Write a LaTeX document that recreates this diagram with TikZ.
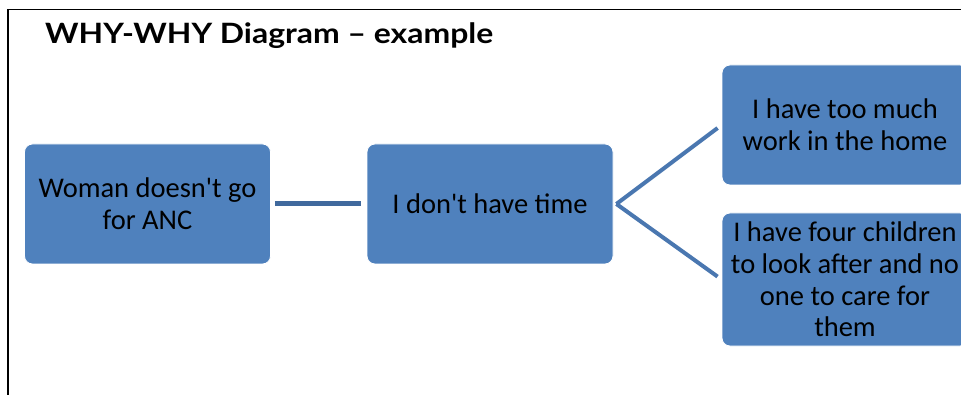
\documentclass[tikz,border=0pt]{standalone}
\usepackage{fontspec}
\usepackage{graphicx}
\newfontfamily\boxfont{Carlito}
\newfontfamily\titlefont{Lato}
\usetikzlibrary{calc}
\definecolor{boxblue}{HTML}{4F81BD}
\definecolor{linkblue}{HTML}{4A77B0}
\definecolor{darklink}{HTML}{40699D}
\tikzset{
  whybox/.style={rectangle, rounded corners=8pt, fill=boxblue, draw=white, line width=0.8pt,
    minimum width=246pt, align=center, text=black, inner sep=2pt,
    font=\boxfont\fontsize{28.5}{31.7}\selectfont},
  link/.style={line width=4pt, draw=linkblue},
}
\begin{document}
\begin{tikzpicture}[x=1pt,y=-1pt]
\useasboundingbox (0,0) rectangle (961,395);
\clip (0,0) rectangle (961,395);
\draw[line width=1.5pt] (8,395) -- (8,9.5) -- (961,9.5);
\node[anchor=base west, font=\titlefont\bfseries\fontsize{28}{32}\selectfont, inner sep=0pt] (title) at (45,44) {\scalebox{1.14}[1]{WHY-WHY Diagram – example}};
\node[whybox, minimum height=120pt] (b1) at (147.5,204) {Woman doesn't go\\for ANC};
\node[whybox, minimum height=120pt] (b2) at (490,204) {I don't have time};
\node[whybox, minimum height=120pt] (b3) at (845,125) {I have too much\\work in the home};
\node[whybox, minimum height=133pt] (b4) at (845,279.5) {I have four children\\to look after and no\\one to care for\\them};
\draw[line width=5pt, draw=darklink, shorten <=4pt, shorten >=6pt] (b1.east) -- (b2.west);
\coordinate (apex) at ($(b2.east)+(3,0)$);
\draw[link, shorten <=5pt] (b3.west) -- (apex);
\draw[link, shorten >=5pt] (apex) -- (b4.west);
\end{tikzpicture}
\end{document}
